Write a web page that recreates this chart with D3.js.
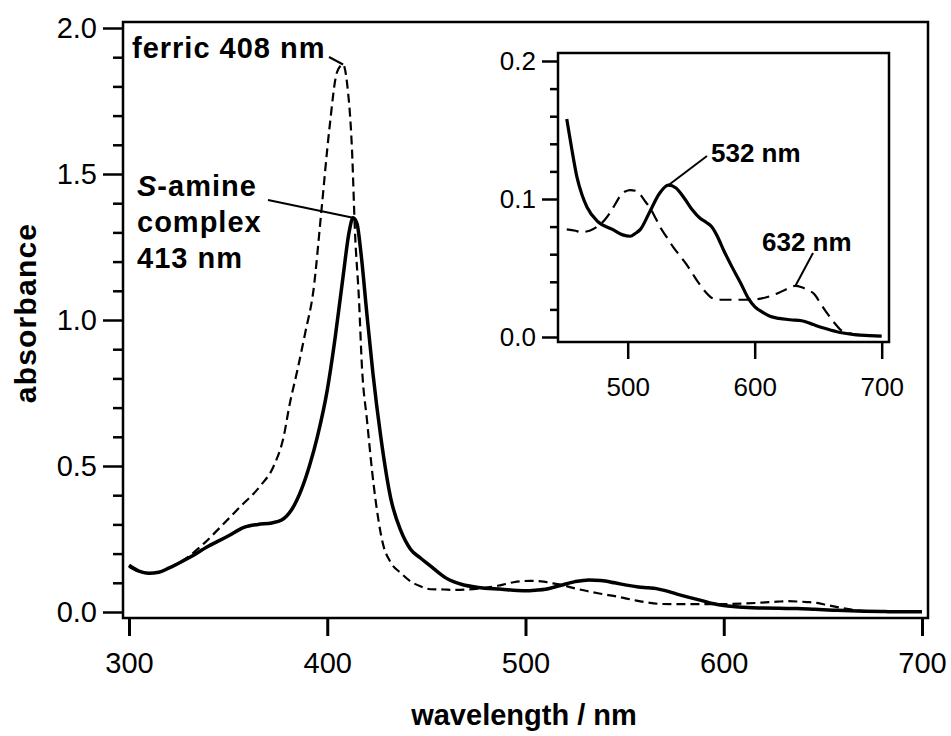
<!DOCTYPE html>
<html>
<head>
<meta charset="utf-8">
<script src="https://cdn.jsdelivr.net/npm/d3@7"></script>
<style>
  body { margin: 0; background: #fff; }
  text { font-family: "Liberation Sans", Arial, Helvetica, sans-serif; fill: #000; }
</style>
</head>
<body>
<div id="chart"></div>
<script>
// ---- data ----
// S-amine complex (solid line)
const amineWl = [300, 305, 310, 315, 320, 330, 340, 350, 358, 365, 372, 377, 382, 387, 391, 395, 400, 404, 408, 411, 413, 415, 417, 420, 423, 427, 432, 437, 442, 447,
  452, 456, 460, 464, 468, 476, 488, 496, 502, 506, 510, 517, 525, 532, 538, 545, 551, 557, 562, 566, 570, 576, 582, 589, 595, 600, 606, 612, 619, 628, 637, 646, 655, 664, 671, 680, 690, 700];
const amineAbs = [0.160, 0.140, 0.133, 0.136, 0.150, 0.185, 0.225, 0.260, 0.290, 0.300, 0.305, 0.315, 0.350, 0.420, 0.500, 0.600, 0.760, 0.940, 1.150, 1.300, 1.350, 1.330, 1.230, 1.020, 0.820, 0.600, 0.390, 0.280, 0.215, 0.185,
  0.158, 0.136, 0.116, 0.103, 0.094, 0.084, 0.078, 0.074, 0.073, 0.075, 0.078, 0.090, 0.104, 0.110, 0.108, 0.100, 0.092, 0.086, 0.083, 0.080, 0.074, 0.062, 0.051, 0.039, 0.028, 0.022, 0.018, 0.015, 0.0135, 0.0125, 0.0118, 0.009, 0.0063, 0.004, 0.0027, 0.0015, 0.001, 0.0006];

// ferric (dashed line)
const ferricWl = [300, 305, 310, 315, 320, 330, 338, 346, 356, 366, 373, 378, 381, 385, 389, 393, 397, 401, 405, 408, 410, 412.5, 414, 416, 417.5, 420, 423.5, 428, 432, 437, 442, 447,
  452, 459, 463, 470, 476, 482, 486, 490, 494, 498, 502, 506, 510, 514, 518, 522, 526, 531, 536, 541, 546, 551, 556, 561, 567, 573, 580, 590, 600, 610, 619, 627, 632, 637, 642, 647, 652, 658, 663, 668, 673, 680, 690, 700];
const ferricAbs = [0.155, 0.138, 0.132, 0.136, 0.150, 0.190, 0.236, 0.290, 0.360, 0.430, 0.500, 0.600, 0.710, 0.830, 0.960, 1.100, 1.370, 1.650, 1.850, 1.875, 1.810, 1.580, 1.300, 1.070, 0.840, 0.660, 0.430, 0.236, 0.170, 0.134, 0.105, 0.088,
  0.078, 0.077, 0.076, 0.077, 0.080, 0.085, 0.090, 0.096, 0.102, 0.1055, 0.1065, 0.106, 0.103, 0.098, 0.093, 0.086, 0.079, 0.072, 0.065, 0.059, 0.053, 0.046, 0.039, 0.033, 0.028, 0.027, 0.027, 0.027, 0.0273, 0.029, 0.032, 0.0355, 0.037, 0.036, 0.034, 0.031, 0.024, 0.016, 0.010, 0.005, 0.003, 0.0018, 0.001, 0.0006];

// ticks
const mainXTicks = [300, 400, 500, 600, 700];
const mainYTicks = [0, 0.5, 1.0, 1.5, 2.0];
const mainYMinor = [0.1, 0.2, 0.3, 0.4, 0.6, 0.7, 0.8, 0.9, 1.1, 1.2, 1.3, 1.4, 1.6, 1.7, 1.8, 1.9];
const insetXTicks = [500, 600, 700];
const insetYTicks = [0, 0.1, 0.2];
const insetYMinor = [0.02, 0.04, 0.06, 0.08, 0.12, 0.14, 0.16, 0.18];

const amine = amineWl.map((w, i) => [w, amineAbs[i]]);
const ferric = ferricWl.map((w, i) => [w, ferricAbs[i]]);

// ---- svg ----
const width = 951, height = 736;
const svg = d3.select("#chart").append("svg")
  .attr("width", width)
  .attr("height", height);

// main scales
const x = d3.scaleLinear().domain([300, 700]).range([129, 922]);
const y = d3.scaleLinear().domain([0, 2]).range([612, 28]);

// axes (frame drawn separately)
const yAxis = d3.axisLeft(y).tickValues(mainYTicks).tickSize(20).tickPadding(6).tickFormat(d3.format(".1f"));
const yMinor = d3.axisLeft(y).tickValues(mainYMinor).tickSize(10).tickFormat("");
const xAxis = d3.axisBottom(x).tickValues(mainXTicks).tickSize(18).tickPadding(16).tickFormat(d3.format("d"));

function styleAxis(g, fs, w) {
  g.select(".domain").remove();
  g.selectAll("line").attr("stroke", "#000").attr("stroke-width", w);
  g.selectAll("text").style("font-size", fs + "px").attr("fill", "#000");
}

svg.append("g").attr("transform", "translate(123,0)").call(yAxis).call(g => styleAxis(g, 29, 2.5));
svg.append("g").attr("transform", "translate(123,0)").call(yMinor).call(g => styleAxis(g, 29, 2.5));
svg.append("g").attr("transform", "translate(0,618)").call(xAxis).call(g => styleAxis(g, 29, 3));

// main frame
svg.append("rect")
  .attr("x", 123).attr("y", 22)
  .attr("width", 928 - 123).attr("height", 618 - 22)
  .attr("fill", "none").attr("stroke", "#000").attr("stroke-width", 2.5);

const line = d3.line()
  .x(d => x(d[0]))
  .y(d => y(d[1]))
  .curve(d3.curveMonotoneX);

svg.append("path").datum(ferric)
  .attr("d", line)
  .attr("fill", "none").attr("stroke", "#000")
  .attr("stroke-width", 2.2).attr("stroke-dasharray", "9,5");

svg.append("path").datum(amine)
  .attr("d", line)
  .attr("fill", "none").attr("stroke", "#000")
  .attr("stroke-width", 3.5).attr("stroke-linejoin", "round");

// axis titles
svg.append("text")
  .attr("transform", "translate(36,313) rotate(-90)")
  .attr("text-anchor", "middle")
  .style("font-size", "30px").style("font-weight", "bold").style("letter-spacing", "1.2px")
  .text("absorbance");

svg.append("text")
  .attr("x", 524).attr("y", 725)
  .attr("text-anchor", "middle")
  .style("font-size", "29px").style("font-weight", "bold")
  .text("wavelength / nm");

// annotations main
svg.append("text")
  .attr("x", 132).attr("y", 58)
  .style("font-size", "29px").style("font-weight", "bold").style("letter-spacing", "1px")
  .text("ferric 408 nm");
svg.append("path")
  .attr("d", `M329,57 L${x(408)},${y(1.875)}`)
  .attr("stroke", "#000").attr("stroke-width", 2).attr("fill", "none");

const amineLabel = svg.append("text")
  .style("font-size", "29px").style("font-weight", "bold").style("letter-spacing", "1px");
const l1 = amineLabel.append("tspan").attr("x", 137).attr("y", 196);
l1.append("tspan").style("font-style", "italic").text("S");
l1.append("tspan").text("-amine");
amineLabel.append("tspan").attr("x", 137).attr("y", 232).text("complex");
amineLabel.append("tspan").attr("x", 137).attr("y", 268).text("413 nm");
svg.append("path")
  .attr("d", `M268,200 L${x(413)},${y(1.35)}`)
  .attr("stroke", "#000").attr("stroke-width", 2).attr("fill", "none");

// ---- inset ----
const ix = d3.scaleLinear().domain([500, 700]).range([627.7, 881.7]);
const iy = d3.scaleLinear().domain([0, 0.2]).range([337, 61]);
const inset = svg.append("g");

inset.append("rect")
  .attr("x", 558).attr("y", 53)
  .attr("width", 889 - 558).attr("height", 342 - 53)
  .attr("fill", "#fff");

const iyAxis = d3.axisLeft(iy).tickValues(insetYTicks).tickSize(16).tickPadding(6).tickFormat(d3.format(".1f"));
const iyMinor = d3.axisLeft(iy).tickValues(insetYMinor).tickSize(8).tickFormat("");
const ixAxis = d3.axisBottom(ix).tickValues(insetXTicks).tickSize(17).tickPadding(19).tickFormat(d3.format("d"));

inset.append("g").attr("transform", "translate(558,0)").call(iyAxis).call(g => styleAxis(g, 26, 2.5));
inset.append("g").attr("transform", "translate(558,0)").call(iyMinor).call(g => styleAxis(g, 26, 2.5));
inset.append("g").attr("transform", "translate(0,342)").call(ixAxis).call(g => styleAxis(g, 26, 2.5));

const iline = d3.line()
  .x(d => ix(d[0]))
  .y(d => iy(d[1]))
  .curve(d3.curveMonotoneX);

inset.append("path").datum(ferric.filter(d => d[0] >= 452))
  .attr("d", iline)
  .attr("fill", "none").attr("stroke", "#000")
  .attr("stroke-width", 2.2).attr("stroke-dasharray", "12,7");

inset.append("path").datum(amine.filter(d => d[0] >= 452))
  .attr("d", iline)
  .attr("fill", "none").attr("stroke", "#000")
  .attr("stroke-width", 3.2).attr("stroke-linejoin", "round");

inset.append("rect")
  .attr("x", 558).attr("y", 53)
  .attr("width", 889 - 558).attr("height", 342 - 53)
  .attr("fill", "none").attr("stroke", "#000").attr("stroke-width", 2.5);

inset.append("text")
  .attr("x", 711).attr("y", 162)
  .style("font-size", "26px").style("font-weight", "bold")
  .text("532 nm");
inset.append("path")
  .attr("d", `M707,156 L${ix(532)},${iy(0.110)}`)
  .attr("stroke", "#000").attr("stroke-width", 2).attr("fill", "none");

inset.append("text")
  .attr("x", 762).attr("y", 251)
  .style("font-size", "26px").style("font-weight", "bold")
  .text("632 nm");
inset.append("path")
  .attr("d", `M813,253 L${ix(632)},${iy(0.037)}`)
  .attr("stroke", "#000").attr("stroke-width", 2).attr("fill", "none");
</script>
</body>
</html>
